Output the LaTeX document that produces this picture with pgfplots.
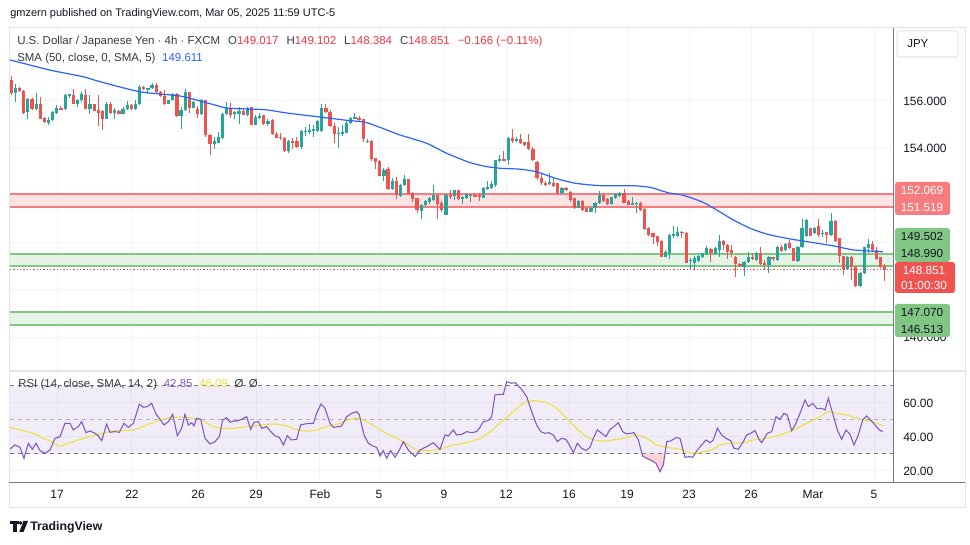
\documentclass[border=0pt]{standalone}
\usepackage{fontspec}
\setmainfont{Liberation Sans}
\usepackage{pgfplots}
\pgfplotsset{compat=1.18}
\usepackage{pgfplotstable}
\definecolor{upc}{HTML}{26A69A}
\definecolor{dnc}{HTML}{EF5350}
\definecolor{smac}{HTML}{2962FF}
\definecolor{gridc}{HTML}{F0F3FA}
\definecolor{txt}{HTML}{131722}
\definecolor{gry}{HTML}{787B86}
\definecolor{bandr}{HTML}{F77C80}
\definecolor{bandrf}{HTML}{FBE3E4}
\definecolor{bandg}{HTML}{81C784}
\definecolor{bandgf}{HTML}{E6F4E7}
\definecolor{curr}{HTML}{F23645}
\definecolor{rsic}{HTML}{7E57C2}
\definecolor{rsimac}{HTML}{F2DE3A}
\definecolor{framec}{HTML}{E0E3EB}

\pgfplotstableread{
i o h l c
1 156.88 157.06 156.27 156.35
2 156.35 156.73 155.96 156.56
3 156.56 156.58 156.39 156.41
4 156.44 156.46 155.46 155.51
5 155.53 156.14 155.22 156.10
6 156.10 156.13 155.60 155.65
7 155.65 156.35 155.62 155.87
8 155.87 156.17 155.22 155.25
9 155.29 155.32 155.08 155.11
10 155.08 155.32 155.00 155.21
11 155.18 155.56 155.15 155.53
12 155.51 155.82 155.46 155.70
13 155.72 155.80 155.60 155.63
14 155.65 156.31 155.62 156.27
15 156.24 156.31 156.13 156.28
16 156.27 156.52 155.86 155.89
17 155.89 156.07 155.73 156.06
18 156.03 156.38 155.96 156.31
19 156.27 156.49 155.65 155.68
20 155.68 156.24 155.44 155.86
21 155.86 155.89 155.56 155.59
22 155.63 156.24 154.94 155.51
23 155.56 155.60 154.79 155.25
24 155.25 155.96 155.22 155.89
25 155.89 155.96 155.45 155.49
26 155.49 155.70 155.25 155.60
27 155.59 155.60 155.44 155.46
28 155.46 155.75 155.44 155.68
29 155.65 155.99 155.60 155.84
30 155.84 155.89 155.60 155.65
31 155.65 156.03 155.60 155.89
32 155.86 156.69 155.82 156.59
33 156.59 156.64 156.45 156.49
34 156.49 156.56 156.31 156.55
35 156.55 156.78 156.49 156.69
36 156.69 156.75 156.35 156.38
37 156.38 156.41 156.18 156.21
38 156.21 156.45 155.84 155.89
39 155.89 156.06 155.86 156.03
40 156.03 156.35 156.00 156.31
41 156.31 156.33 155.32 155.36
42 155.36 155.75 154.83 155.60
43 155.60 156.52 155.56 156.38
44 156.38 156.40 155.51 155.72
45 155.72 156.00 155.70 155.97
46 155.65 155.79 155.30 155.44
47 155.44 156.07 155.41 156.03
48 156.03 156.05 154.48 154.56
49 154.56 154.59 153.72 154.17
50 154.17 154.48 153.96 154.31
51 154.24 154.70 154.21 154.48
52 154.42 155.51 154.41 155.46
53 155.44 155.97 155.41 155.72
54 155.72 155.93 155.27 155.41
55 155.48 155.58 155.23 155.51
56 155.46 155.75 155.01 155.58
57 155.58 155.69 155.40 155.41
58 155.41 155.75 155.37 155.72
59 155.75 155.76 154.97 154.99
60 154.99 155.41 154.97 155.32
61 155.27 155.51 155.23 155.37
62 155.41 155.42 154.99 155.01
63 155.01 155.23 154.94 155.16
64 155.18 155.23 154.56 154.59
65 154.62 154.70 154.42 154.45
66 154.48 154.66 154.34 154.44
67 154.45 154.48 153.86 153.89
68 153.89 154.34 153.80 154.31
69 154.31 154.42 153.96 154.24
70 154.31 154.48 154.00 154.06
71 154.06 154.76 153.96 154.73
72 154.70 154.90 154.52 154.73
73 154.70 155.01 154.59 154.76
74 154.76 154.99 154.48 154.80
75 154.73 155.18 154.70 155.16
76 154.73 155.86 154.70 155.72
77 155.69 155.86 155.51 155.55
78 155.55 155.61 154.92 154.94
79 154.94 155.08 154.24 154.62
80 154.62 154.90 154.00 154.66
81 154.62 154.99 154.52 154.70
82 154.66 155.16 154.63 155.08
83 155.08 155.32 155.04 155.27
84 155.23 155.51 155.23 155.32
85 155.30 155.37 155.16 155.18
86 155.23 155.25 154.28 154.37
87 154.25 154.37 154.23 154.32
88 154.32 154.33 153.44 153.55
89 153.58 153.59 153.10 153.41
90 153.44 153.48 152.82 152.84
91 152.84 153.15 152.59 153.06
92 153.13 153.20 152.25 152.28
93 152.28 152.73 152.25 152.63
94 152.63 152.77 151.83 152.00
95 151.97 152.49 151.93 152.45
96 152.42 152.87 152.39 152.68
97 152.68 152.70 152.04 152.07
98 152.11 152.14 151.72 151.86
99 151.89 151.90 151.27 151.37
100 151.32 151.65 150.98 151.60
101 151.58 151.79 151.51 151.75
102 151.72 151.93 151.65 151.89
103 151.82 152.45 151.75 152.00
104 152.00 152.03 150.98 151.65
105 151.68 151.75 151.29 151.37
106 151.18 152.05 151.15 152.03
107 152.00 152.21 151.86 151.93
108 151.97 152.25 151.79 152.21
109 152.21 152.25 151.82 151.86
110 151.89 151.97 151.65 151.93
111 151.89 152.08 151.86 152.06
112 152.00 152.08 151.72 152.03
113 152.03 152.06 151.93 151.96
114 152.00 152.11 151.75 151.97
115 151.91 152.35 151.89 152.31
116 152.28 152.59 152.25 152.37
117 152.31 152.63 152.28 152.48
118 152.42 153.51 152.35 153.48
119 153.44 153.72 153.41 153.55
120 153.55 153.90 153.44 153.49
121 153.48 154.46 153.27 154.44
122 154.44 154.82 154.23 154.30
123 154.32 154.46 154.28 154.39
124 154.39 154.61 154.18 154.23
125 154.28 154.28 154.11 154.14
126 154.25 154.61 153.94 153.97
127 153.97 154.04 153.44 153.48
128 153.41 153.45 152.65 152.72
129 152.75 152.94 152.44 152.51
130 152.51 152.60 152.42 152.48
131 152.51 152.94 152.44 152.58
132 152.51 152.79 152.37 152.40
133 152.51 152.51 152.02 152.09
134 152.12 152.37 152.02 152.30
135 152.30 152.37 152.20 152.26
136 152.16 152.17 151.73 151.81
137 151.88 151.89 151.41 151.45
138 151.48 151.81 151.45 151.76
139 151.78 151.81 151.35 151.38
140 151.47 151.52 151.28 151.31
141 151.31 151.49 151.28 151.48
142 151.45 151.72 151.24 151.69
143 151.66 152.20 151.64 152.02
144 152.02 152.09 151.73 151.78
145 151.83 151.88 151.61 151.64
146 151.64 151.95 151.61 151.92
147 151.88 152.09 151.85 152.05
148 151.97 152.16 151.95 152.12
149 152.12 152.26 151.66 151.69
150 151.78 151.81 151.58 151.61
151 151.64 151.92 151.62 151.66
152 151.66 151.70 151.24 151.69
153 151.66 151.72 151.35 151.38
154 151.41 151.45 150.54 150.56
155 150.61 150.65 150.29 150.32
156 150.39 150.42 149.94 150.25
157 150.28 150.29 149.86 150.04
158 150.08 150.11 149.38 149.41
159 149.41 149.69 149.38 149.62
160 149.57 150.37 149.29 150.32
161 150.31 150.70 150.18 150.35
162 150.28 150.65 150.25 150.46
163 150.46 150.49 150.18 150.42
164 150.42 150.43 149.12 149.15
165 149.24 149.33 148.87 149.26
166 149.15 149.43 148.87 149.33
167 149.24 149.48 149.19 149.43
168 149.38 149.57 149.33 149.55
169 149.52 149.86 149.48 149.76
170 149.72 149.76 149.19 149.55
171 149.52 149.80 149.50 149.76
172 149.69 150.32 149.38 150.08
173 150.08 150.09 149.69 149.90
174 149.90 149.94 149.29 149.62
175 149.69 149.90 149.38 149.55
176 149.41 149.43 148.56 149.09
177 149.09 149.12 148.95 149.01
178 148.98 149.24 148.59 149.19
179 149.19 149.62 149.12 149.38
180 149.38 149.57 149.26 149.29
181 149.26 149.62 149.24 149.57
182 149.55 149.83 149.05 149.09
183 149.12 149.26 148.84 149.05
184 149.05 149.43 148.70 149.38
185 149.38 149.39 149.24 149.33
186 149.26 149.86 149.24 149.83
187 149.83 149.90 149.62 149.66
188 149.69 149.97 149.66 149.94
189 149.97 150.11 149.72 149.76
190 149.76 149.77 149.22 149.24
191 149.24 149.86 149.19 149.83
192 149.80 150.99 149.76 150.61
193 150.28 150.99 150.25 150.96
194 150.61 150.62 150.27 150.28
195 150.39 150.65 150.37 150.61
196 150.70 150.99 150.25 150.32
197 150.39 150.54 150.25 150.42
198 150.46 150.47 149.97 150.32
199 150.32 151.27 150.28 150.93
200 150.93 150.96 150.04 150.08
201 150.18 150.19 149.12 149.43
202 149.43 149.44 148.63 148.87
203 148.87 149.43 148.84 149.38
204 149.38 149.43 148.42 148.95
205 148.98 148.99 148.11 148.16
206 148.16 148.77 148.11 148.73
207 148.70 149.83 148.67 149.80
208 149.76 150.14 149.57 149.94
209 149.94 150.08 149.66 149.69
210 149.69 149.80 149.26 149.29
211 149.38 149.41 148.91 148.95
212 149.02 149.10 148.38 148.85
}\candles

\newcommand{\xt}{12.04,30.15,46.10,60.11,75.56,89.82,105.52,120.50,135.71,149.72,164.70,179.68,194.65,209.38}

\begin{document}
\begin{tikzpicture}
\fill[white] (0,0) rectangle (727.5pt,408.75pt);

% ---------------- main price pane ----------------
\begin{axis}[
  anchor=south west, at={(7.5pt,131.25pt)},
  scale only axis, width=662.25pt, height=256.5pt,
  xmin=0.686, xmax=213.97, ymin=144.602, ymax=159.093,
  axis line style={draw=none},
  xtick/.expand once={\xt}, xticklabels={},
  ytick={146,148,150,152,154,156},
  yticklabels={146.000,148.000,{},{},154.000,156.000},
  yticklabel pos=right,
  yticklabel style={font=\fontsize{9}{10}\selectfont, text=txt, inner sep=0pt, anchor=west, xshift=7.5pt},
  major tick length=0pt,
  grid=major, major grid style={gridc, line width=0.75pt},
]
% zones
\addplot[draw=none, fill=bandrf] coordinates {(0.686,151.519) (213.97,151.519) (213.97,152.069) (0.686,152.069)};
\addplot[bandr, line width=1.5pt] coordinates {(0.686,152.069) (213.97,152.069)};
\addplot[bandr, line width=1.5pt] coordinates {(0.686,151.519) (213.97,151.519)};
\addplot[draw=none, fill=bandgf] coordinates {(0.686,148.990) (213.97,148.990) (213.97,149.502) (0.686,149.502)};
\addplot[bandg, line width=1.5pt] coordinates {(0.686,149.502) (213.97,149.502)};
\addplot[bandg, line width=1.5pt] coordinates {(0.686,148.990) (213.97,148.990)};
\addplot[draw=none, fill=bandgf] coordinates {(0.686,146.513) (213.97,146.513) (213.97,147.070) (0.686,147.070)};
\addplot[bandg, line width=1.5pt] coordinates {(0.686,147.070) (213.97,147.070)};
\addplot[bandg, line width=1.5pt] coordinates {(0.686,146.513) (213.97,146.513)};

% wicks
\addplot[draw=none, mark=none,
  restrict expr to domain={\thisrow{c}-\thisrow{o}}{0:100},
  error bars/.cd, y dir=both, y explicit, error mark=none,
  error bar style={draw=upc, line width=0.75pt, solid}]
  table[x=i, y expr={(\thisrow{h}+\thisrow{l})/2}, y error expr={(\thisrow{h}-\thisrow{l})/2}] {\candles};
\addplot[draw=none, mark=none,
  restrict expr to domain={\thisrow{c}-\thisrow{o}}{-100:-0.00001},
  error bars/.cd, y dir=both, y explicit, error mark=none,
  error bar style={draw=dnc, line width=0.75pt, solid}]
  table[x=i, y expr={(\thisrow{h}+\thisrow{l})/2}, y error expr={(\thisrow{h}-\thisrow{l})/2}] {\candles};
% bodies
\addplot[draw=none, mark=none,
  restrict expr to domain={\thisrow{c}-\thisrow{o}}{0:100},
  error bars/.cd, y dir=both, y explicit, error mark=none,
  error bar style={draw=upc, line width=2.4pt, solid}]
  table[x=i, y expr={(\thisrow{o}+\thisrow{c})/2}, y error expr={max(abs(\thisrow{c}-\thisrow{o})/2,0.02)}] {\candles};
\addplot[draw=none, mark=none,
  restrict expr to domain={\thisrow{c}-\thisrow{o}}{-100:-0.00001},
  error bars/.cd, y dir=both, y explicit, error mark=none,
  error bar style={draw=dnc, line width=2.4pt, solid}]
  table[x=i, y expr={(\thisrow{o}+\thisrow{c})/2}, y error expr={max(abs(\thisrow{c}-\thisrow{o})/2,0.02)}] {\candles};

% SMA 50
\addplot[smac, line width=0.9pt, smooth, tension=0.4] coordinates {
(0.69,157.74) (10.35,157.31) (18.3,157.03) (22.4,156.82) (32.1,156.39) (41.8,156.21) (48.3,155.92) (53.1,155.70) (58.7,155.66) (62.8,155.62) (67.6,155.49) (75.1,155.33) (81.6,155.19) (86.4,155.10) (90.1,154.88) (94.9,154.56) (101.3,154.21) (106.2,153.78) (111.8,153.39) (115.8,153.22) (119.1,153.15) (123.9,153.11) (127.9,153.00) (132.5,152.72) (137.4,152.51) (143.6,152.41) (151.2,152.41) (155.3,152.34) (159.7,152.11) (163.0,152.02) (167.8,151.73) (171.4,151.38) (175.4,150.96) (179.4,150.61) (183.5,150.36) (188.3,150.18) (193.2,150.04) (199.6,149.86) (204.4,149.69) (211.5,149.61)};

% last price line
\addplot[curr, line width=0.75pt, dash pattern=on 1pt off 1.5pt] coordinates {(0.686,148.851) (213.97,148.851)};
\end{axis}

% ---------------- RSI pane ----------------
\begin{axis}[
  anchor=south west, at={(7.5pt,46.5pt)},
  scale only axis, width=662.25pt, height=84pt,
  xmin=0.686, xmax=213.97, ymin=12.94, ymax=78.82,
  axis line style={draw=none},
  xtick/.expand once={\xt},
  xticklabels={17,22,26,29,Feb,5,9,12,16,19,23,26,Mar,5},
  xticklabel style={font=\fontsize{9}{10}\selectfont, text=txt, anchor=center, yshift=-8.25pt},
  ytick={20,40,60}, yticklabels={20.00,40.00,60.00},
  yticklabel pos=right,
  yticklabel style={font=\fontsize{9}{10}\selectfont, text=txt, inner sep=0pt, anchor=west, xshift=7.5pt},
  major tick length=0pt,
  grid=major, major grid style={gridc, line width=0.75pt},
]
\addplot[draw=none, fill=rsic, fill opacity=0.1] coordinates {(0.686,30) (213.97,30) (213.97,70) (0.686,70)};
\addplot[gry, line width=0.75pt, dash pattern=on 3pt off 3pt] coordinates {(0.686,70) (213.97,70)};
\addplot[gry!60, line width=0.75pt, dash pattern=on 3pt off 3pt] coordinates {(0.686,50) (213.97,50)};
\addplot[gry, line width=0.75pt, dash pattern=on 3pt off 3pt] coordinates {(0.686,30) (213.97,30)};
\addplot[draw=none, fill=curr!22] coordinates {(153.37,30) (154.47,27.47) (155.68,26.10) (156.72,24.53) (157.69,19.63) (158.49,23.55) (158.87,30)};
\addplot[rsimac, line width=0.8pt, smooth, tension=0.4] coordinates {
(0.69,45.70) (3.10,44.13) (6.32,42.17) (8.74,39.23) (11.15,36.68) (12.76,34.72) (14.37,35.90) (18.40,39.23) (22.43,41.78) (25.65,43.54) (30.48,44.13) (33.70,47.07) (36.92,50.01) (40.14,51.58) (43.36,51.58) (46.58,50.40) (48.99,47.07) (51.41,45.11) (54.63,45.11) (59.46,46.48) (64.29,47.66) (67.51,46.48) (70.73,43.74) (73.95,43.74) (77.17,46.09) (80.40,48.05) (83.61,50.99) (85.63,50.40) (87.64,48.05) (90.86,43.15) (95.69,37.27) (98.91,32.37) (102.13,31.98) (104.55,32.76) (107.77,35.31) (110.99,36.68) (114.21,39.23) (116.63,43.15) (119.04,48.05) (122.26,54.91) (124.68,59.81) (127.09,61.38) (130.31,60.20) (132.73,56.87) (135.14,50.99) (137.56,45.11) (139.97,40.21) (142.39,37.86) (144.81,37.66) (147.22,38.64) (149.64,39.62) (152.05,41.19) (154.47,39.23) (156.88,35.31) (159.30,33.94) (162.52,32.76) (165.74,30.02) (168.15,31.39) (170.57,32.76) (172.18,35.31) (174.60,36.29) (177.82,36.68) (180.23,38.25) (183.45,39.23) (186.67,41.19) (189.89,44.13) (193.12,48.05) (196.34,51.97) (198.35,54.91) (200.36,53.93) (202.78,52.95) (205.19,50.99) (207.61,49.62) (210.02,48.05) (211.63,46.48)};
\addplot[rsic, line width=0.8pt] coordinates {
(0.69,32.96) (1.89,35.31) (3.10,33.94) (4.07,27.47) (5.11,36.29) (6.08,32.76) (6.97,36.29) (7.93,31.98) (9.14,30.41) (10.35,32.37) (11.55,39.23) (12.76,40.21) (13.97,48.05) (15.18,48.05) (15.98,44.13) (17.19,46.09) (18.00,49.03) (19.04,42.56) (20.01,43.54) (21.22,42.17) (22.02,40.60) (22.83,37.86) (24.03,47.46) (24.84,42.76) (26.05,43.15) (27.09,42.76) (28.22,48.05) (29.27,45.70) (30.48,48.05) (31.93,59.22) (32.89,57.46) (33.86,57.85) (34.90,59.81) (35.95,53.54) (36.92,50.40) (37.88,47.07) (38.93,49.03) (39.98,53.34) (41.10,40.80) (42.15,45.11) (42.96,53.34) (43.76,47.07) (44.57,48.44) (45.13,46.48) (45.77,50.99) (46.74,50.40) (47.79,39.23) (49.00,35.90) (50.20,37.27) (51.25,40.21) (52.05,50.01) (53.02,51.38) (53.83,48.64) (54.63,49.42) (55.60,49.42) (56.64,50.40) (57.85,51.97) (58.82,44.52) (59.62,48.64) (60.67,49.03) (61.48,45.11) (62.68,46.09) (63.65,43.15) (64.70,40.60) (65.74,39.82) (66.71,35.31) (67.67,40.80) (68.72,38.25) (69.93,38.64) (70.89,47.07) (71.94,47.66) (73.15,48.05) (73.95,48.05) (74.76,53.93) (75.80,59.42) (76.77,56.87) (77.98,48.05) (78.79,45.70) (79.99,46.09) (80.80,46.48) (82.00,51.97) (83.21,53.93) (84.42,54.91) (85.07,52.95) (86.19,41.19) (87.24,36.29) (88.29,34.72) (89.25,33.94) (90.06,28.84) (90.86,31.98) (91.67,27.47) (92.63,31.98) (93.68,28.06) (94.73,32.37) (95.69,37.27) (96.90,32.37) (98.51,28.45) (99.72,32.37) (101.33,34.33) (102.94,36.68) (104.55,32.76) (105.76,41.19) (106.56,40.60) (107.77,44.13) (108.58,41.19) (109.78,41.58) (110.99,43.15) (112.20,42.56) (113.41,43.15) (114.21,45.70) (115.02,49.03) (116.22,49.62) (117.03,51.97) (117.83,64.71) (119.04,65.10) (119.85,65.10) (120.65,72.55) (121.86,71.57) (122.66,71.96) (123.47,70.00) (124.27,68.04) (125.48,63.73) (126.69,54.91) (127.90,47.07) (128.86,43.15) (129.91,42.17) (130.71,42.56) (131.92,41.19) (132.89,37.27) (133.94,39.23) (134.98,38.64) (135.95,34.72) (136.75,30.80) (137.72,36.29) (138.77,33.35) (139.81,31.98) (140.78,33.94) (141.59,39.23) (142.55,44.13) (143.60,42.17) (144.64,40.21) (145.61,44.52) (146.58,46.09) (147.62,48.44) (148.67,43.15) (149.64,41.78) (150.60,42.17) (151.41,42.56) (152.45,38.25) (153.50,28.84) (154.47,27.47) (155.68,26.10) (156.72,24.53) (157.69,19.63) (158.49,23.55) (159.30,37.27) (160.26,37.66) (161.55,39.62) (162.52,39.23) (163.73,28.06) (164.77,28.45) (165.58,28.06) (166.71,32.37) (167.75,35.31) (168.80,38.25) (169.77,36.68) (170.57,38.25) (171.54,45.11) (172.58,41.19) (173.63,39.23) (174.76,37.86) (175.56,33.35) (176.61,32.76) (177.82,37.27) (178.62,41.19) (179.59,42.17) (180.63,43.74) (181.68,38.25) (182.24,36.68) (183.62,42.17) (184.66,43.15) (185.71,51.97) (186.67,50.40) (187.64,53.93) (188.44,52.95) (189.49,43.74) (190.54,48.05) (191.66,54.91) (192.71,61.77) (193.52,57.85) (194.56,59.81) (195.53,56.87) (196.74,56.87) (197.54,55.89) (198.35,62.75) (199.39,53.93) (200.52,44.13) (201.57,38.64) (202.62,44.13) (203.58,41.58) (204.55,35.31) (205.59,41.19) (206.64,50.01) (207.61,52.36) (208.57,50.01) (209.62,47.07) (210.67,44.13) (211.47,43.15)};
\end{axis}

% ---------------- overlays in pixel coordinates ----------------
\begin{scope}[x=0.75pt, y=-0.75pt, yshift=408.75pt]
\draw[framec, line width=0.75pt] (9,28) rectangle (965,508);
\draw[framec, line width=1pt] (9,371) -- (965,371);
\draw[gry, line width=0.75pt] (893,28) -- (893,483);
\draw[gry, line width=0.75pt] (9,483) -- (965,483);

\draw[framec, line width=0.75pt, fill=white, rounded corners=2pt] (897,31) rectangle (958,57);
\node[anchor=west, inner sep=0pt, font=\fontsize{8.6}{10}\selectfont, text=txt] at (907,44) {JPY};

% price tags
\fill[bandr, rounded corners=2pt] (895,182) rectangle (950,215);
\node[font=\fontsize{8.8}{9}\selectfont, text=white, inner sep=0pt] at (922,190.5) {152.069};
\node[font=\fontsize{8.8}{9}\selectfont, text=white, inner sep=0pt] at (922,207.5) {151.519};
\fill[bandg, rounded corners=2pt] (895,228) rectangle (950,262);
\node[font=\fontsize{8.8}{9}\selectfont, text=txt, inner sep=0pt] at (922,236.5) {149.502};
\node[font=\fontsize{8.8}{9}\selectfont, text=txt, inner sep=0pt] at (922,253.5) {148.990};
\fill[dnc, rounded corners=2pt] (895,262) rectangle (955,293);
\node[font=\fontsize{8.8}{9}\selectfont, text=white, inner sep=0pt] at (924,270) {148.851};
\node[font=\fontsize{8.8}{9}\selectfont, text=white, inner sep=0pt] at (924,285.5) {01:00:30};
\fill[bandg, rounded corners=2pt] (895,304) rectangle (950,337);
\node[font=\fontsize{8.8}{9}\selectfont, text=txt, inner sep=0pt] at (922,312.5) {147.070};
\node[font=\fontsize{8.8}{9}\selectfont, text=txt, inner sep=0pt] at (922,329.5) {146.513};

% texts
\node[anchor=west, inner sep=0pt, font=\fontsize{8.25}{10}\selectfont, text=txt] at (10,14) {gmzern published on TradingView.com, Mar 05, 2025 11:59 UTC-5};
\node[anchor=west, inner sep=0pt, font=\fontsize{8.6}{10}\selectfont, text=txt!85] at (17,42) {U.S. Dollar / Japanese Yen · 4h · FXCM\hspace{6pt}O\textcolor{curr}{149.017}\hspace{6pt}H\textcolor{curr}{149.102}\hspace{6pt}L\textcolor{curr}{148.384}\hspace{6pt}C\textcolor{curr}{148.851}\hspace{6pt}\textcolor{curr}{−0.166 (−0.11\%)}};
\node[anchor=west, inner sep=0pt, font=\fontsize{8.6}{10}\selectfont, text=txt!85] at (17,59) {SMA (50, close, 0, SMA, 5)\hspace{5pt}\textcolor{smac}{149.611}};
\node[anchor=west, inner sep=0pt, font=\fontsize{8.6}{10}\selectfont, text=txt!85] at (18,385) {RSI (14, close, SMA, 14, 2)\hspace{5pt}\textcolor{rsic}{42.85}\hspace{5pt}\textcolor{rsimac}{46.09}\hspace{5pt}Ø\hspace{4pt}Ø};

% logo
\fill[txt] (10,521) rectangle (18.5,524.5);
\fill[txt] (13.2,521) rectangle (16.6,532);
\fill[txt] (20.6,523) circle (1.9);
\fill[txt] (23.5,521) -- (28,521) -- (23.5,532) -- (19.3,532) -- cycle;
\node[anchor=west, inner sep=0pt, font=\bfseries\fontsize{9.2}{10}\selectfont, text=txt] at (30,527) {TradingView};
\end{scope}
\end{tikzpicture}
\end{document}
